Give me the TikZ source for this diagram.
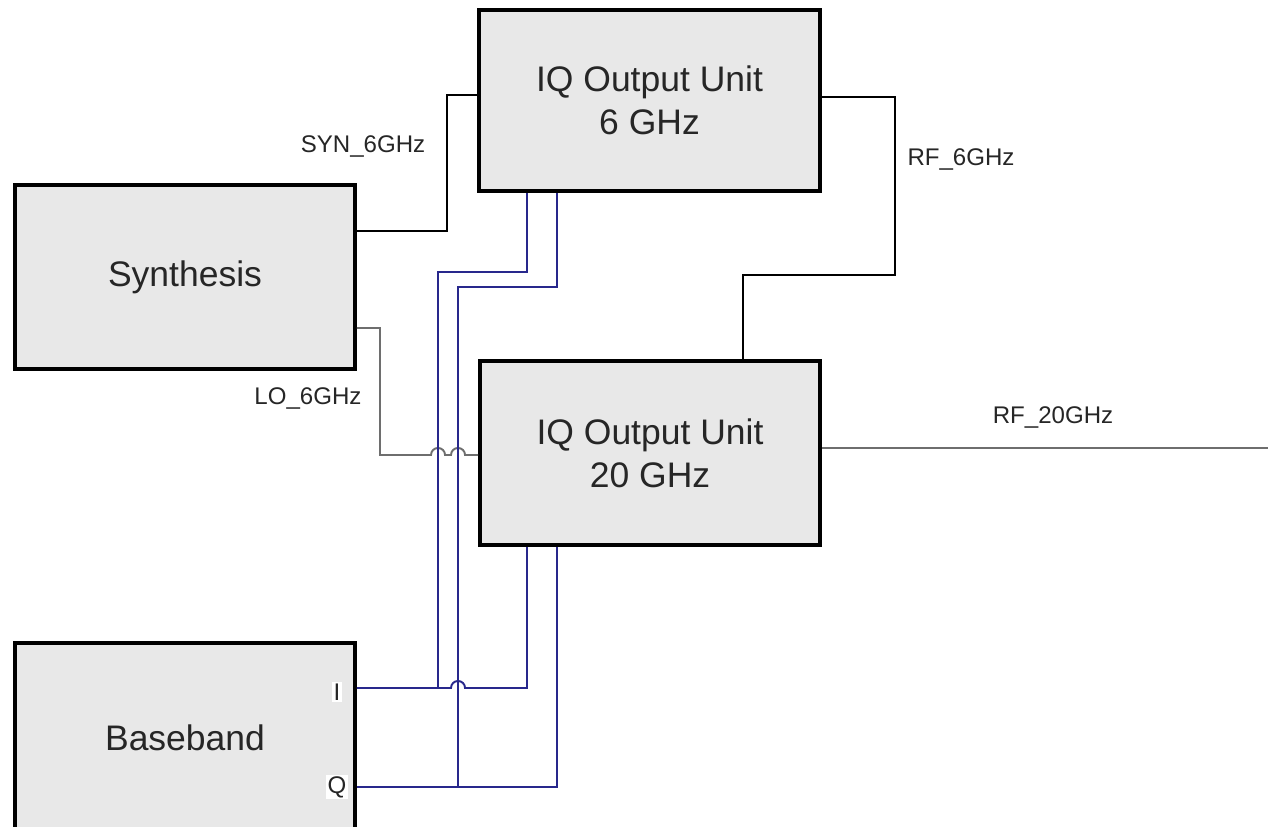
\documentclass[tikz,border=0pt]{standalone}
\usepackage{fontspec}
\setmainfont{Liberation Sans}
\usepackage{tikz}
\usetikzlibrary{positioning}
\definecolor{boxgray}{RGB}{232, 232, 232}
\definecolor{iqblue}{RGB}{40, 40, 140}
\definecolor{logray}{RGB}{110, 110, 110}
\tikzset{unit/.style = {draw, line width=2.3pt, fill=boxgray,
                        minimum width=6.8cm, minimum height=3.68cm,
                        align=center, text=black!85,
                        font=\fontsize{20.2}{24.5}\selectfont}}
\tikzset{sig/.style = {line width=1.1pt}}
\tikzset{iq/.style = {sig, draw=iqblue}}
\tikzset{lo/.style = {sig, draw=logray}}
\tikzset{tag/.style = {text=black!85, inner sep=0,
                       font=\fontsize{13.7}{16}\selectfont}}
\tikzset{hop/.style = {start angle=180, end angle=0, radius=4pt}}

\begin{document}
\begin{tikzpicture}[x=0.02cm, y=-0.02cm]
    \useasboundingbox (0, 0) rectangle (1268, 827);
    \clip (0, 0) rectangle (1268, 827);

    \node [unit] (syn) at (185, 277) {Synthesis};
    \node [unit, minimum width=6.82cm, minimum height=3.62cm] (iq6) at (649.5, 100.5) {IQ Output Unit\\6 GHz};
    \node [unit] (iq20) at (650, 453) {IQ Output Unit\\20 GHz};
    \node [unit, minimum height=3.78cm] (bb) at (185, 737.5) {Baseband};

    \coordinate (ijoin) at (438, 688);
    \coordinate (qjoin) at (458, 787);
    \coordinate (rfout) at (1268, 448);

    \draw [sig] (syn.east |- 0, 231) -| (447, 95) -- (iq6.west |- 0, 95);
    \draw [lo] (syn.east |- 0, 328) -| (380, 455) -- (431, 455) arc [hop]
               -- (451, 455) arc [hop] -- (iq20.west |- 0, 455);
    \draw [sig] (iq6.east |- 0, 97) -| (895, 275) -| (iq20.north -| 743, 0);
    \draw [lo] (iq20.east |- rfout) -- (rfout);

    \draw [iq] (bb.east |- ijoin) -- (451, 688) arc [hop] -- (527, 688) -- (iq20.south -| 527, 0);
    \draw [iq] (ijoin) |- (527, 272) -- (iq6.south -| 527, 0);
    \draw [iq] (bb.east |- qjoin) -| (iq20.south -| 557, 0);
    \draw [iq] (qjoin) |- (557, 287) -- (iq6.south -| 557, 0);

    \node [tag] (synlab) at (363, 146) {SYN\_6GHz};
    \node [tag] (lolab) at (308, 398) {LO\_6GHz};
    \node [tag] (rf6lab) at (961, 159) {RF\_6GHz};
    \node [tag] (rf20lab) at (1053, 417) {RF\_20GHz};
    \node [tag, fill=white, inner sep=1pt] (ilab) at (337, 692) {I};
    \node [tag, fill=white, inner sep=1pt] (qlab) at (337, 787) {Q};
\end{tikzpicture}
\end{document}
